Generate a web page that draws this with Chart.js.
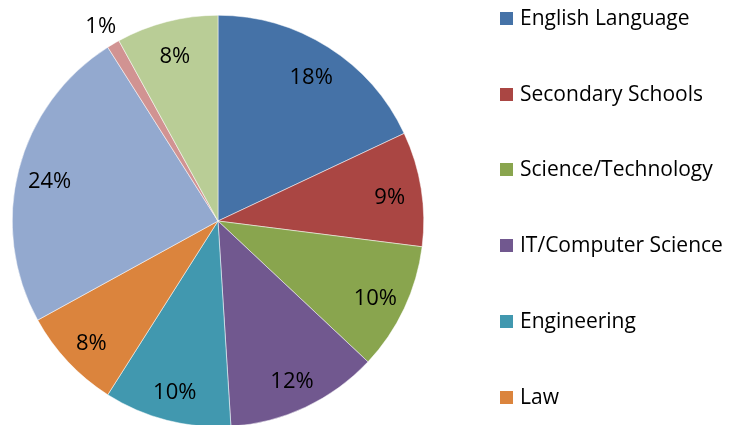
<!DOCTYPE html>
<html><head><meta charset="utf-8">
<script src="https://cdn.jsdelivr.net/npm/chart.js@4/dist/chart.umd.min.js"></script>
<style>html,body{margin:0;padding:0;background:#fff;overflow:hidden;width:738px;height:425px}canvas{display:block}</style>
</head><body>
<canvas id="c" width="738" height="440"></canvas>
<script>
const categories = ["English Language","Secondary Schools","Science/Technology","IT/Computer Science","Engineering","Law","Business","Medicine","Other"];
const shares = [18,9,10,12,10,8,24,1,8];
const colors = ["#4572A7","#AA4643","#89A54E","#71588F","#4198AF","#DB843D","#93A9CF","#D19392","#B9CD96"];
const FONT = "'Open Sans', 'Noto Sans', sans-serif";

const labelPlugin = {
  id: 'sliceLabels',
  afterDatasetsDraw(chart) {
    const ctx = chart.ctx;
    const meta = chart.getDatasetMeta(0);
    const data = chart.data.datasets[0].data;
    const total = data.reduce((a,b)=>a+b,0);
    ctx.save();
    ctx.fillStyle = '#000';
    ctx.font = '22px ' + FONT;
    ctx.textAlign = 'center';
    ctx.textBaseline = 'alphabetic';
    meta.data.forEach((arc, i) => {
      const p = arc.getProps(['x','y','startAngle','endAngle','outerRadius'], true);
      const mid = (p.startAngle + p.endAngle)/2;
      const frac = data[i]/total;
      const r = frac < 0.03 ? p.outerRadius*1.12 : p.outerRadius*0.845;
      const txt = Math.round(frac*100)+'%';
      const m = ctx.measureText(txt);
      const cx = p.x + Math.cos(mid)*r, cy = p.y + Math.sin(mid)*r + 2;
      ctx.fillText(txt, cx, cy + (m.actualBoundingBoxAscent - m.actualBoundingBoxDescent)/2);
    });
    ctx.restore();
  }
};

const legendPlugin = {
  id: 'sideLegend',
  afterDraw(chart) {
    const ctx = chart.ctx;
    const bg = chart.data.datasets[0].backgroundColor;
    ctx.save();
    ctx.font = '21px ' + FONT;
    ctx.textBaseline = 'alphabetic';
    ctx.textAlign = 'left';
    chart.data.labels.forEach((lab, i) => {
      const base = 25 + i*75.7;
      ctx.fillStyle = bg[i];
      ctx.fillRect(500, Math.round(base-13), 13, 13);
      ctx.fillStyle = '#000';
      ctx.fillText(lab, 520, Math.round(base));
    });
    ctx.restore();
  }
};

new Chart(document.getElementById('c'), {
  type: 'pie',
  data: { labels: categories, datasets: [{ data: shares, backgroundColor: colors, borderWidth: 0.5, borderColor: '#ffffff' }] },
  options: {
    responsive: false,
    animation: false,
    layout: { padding: { top: 15, left: 12, right: 314, bottom: 13 } },
    plugins: { legend: { display: false }, tooltip: { enabled: false } }
  },
  plugins: [labelPlugin, legendPlugin]
});
</script>
</body></html>
